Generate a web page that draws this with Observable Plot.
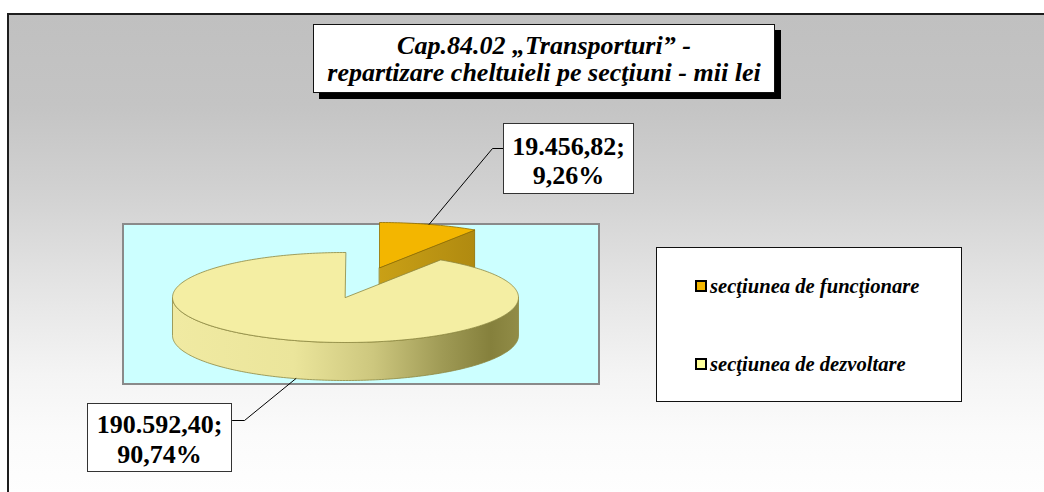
<!DOCTYPE html>
<html>
<head>
<meta charset="utf-8">
<script src="https://cdn.jsdelivr.net/npm/d3@7"></script>
<script src="https://cdn.jsdelivr.net/npm/@observablehq/plot@0.6"></script>
<style>
  html, body { margin: 0; padding: 0; background: #fff; }
  body { width: 1044px; height: 492px; overflow: hidden; position: relative; }
  .serif { font-family: "Liberation Serif", Tinos, "Times New Roman", Times, "Nimbus Roman", "FreeSerif", "DejaVu Serif", "Noto Serif", serif; }
  #frame {
    position: absolute; left: 7px; top: 13px; width: 1100px; height: 520px;
    border-left: 2px solid #1e1e1e; border-top: 2px solid #1e1e1e;
    background: linear-gradient(to bottom, #c0c0c0 0px, #c4c4c4 90px, #d2d2d2 180px, #e4e4e4 270px, #f4f4f4 360px, #fbfbfb 420px, #fefefe 480px);
  }
  #plotarea {
    position: absolute; left: 122px; top: 223px; width: 478px; height: 162px;
    box-sizing: border-box; border: 2px solid #8a8a8a; background: #ccffff;
  }
  #chart { position: absolute; left: 0; top: 0; }
  #title {
    position: absolute; left: 313px; top: 24px; width: 462px; height: 69px;
    box-sizing: border-box; border: 1px solid #111; background: #fff;
    box-shadow: 6px 6px 0 #000;
    font-style: italic; font-weight: bold; font-size: 26px; line-height: 27px;
    text-align: center; padding-top: 7px; color: #000; white-space: nowrap;
  }
  .lbl {
    position: absolute; box-sizing: border-box; border: 1px solid #333; background: #fff;
    font-weight: bold; font-size: 26px; text-align: center; color: #000; white-space: nowrap;
  }
  #legend {
    position: absolute; left: 656px; top: 247px; width: 306px; height: 155px;
    box-sizing: border-box; border: 1px solid #111; background: #fff;
  }
  .item {
    position: absolute; left: 38px; height: 24px; display: flex; align-items: center;
    font-style: italic; font-weight: bold; font-size: 20.6px; color: #000; white-space: nowrap;
  }
  .sw { width: 12px; height: 12px; box-sizing: border-box; border: 2px solid #000; margin-right: 3px; }
</style>
</head>
<body>
<div id="frame"></div>
<div id="plotarea"></div>
<div id="chart"></div>
<div id="title" class="serif"></div>
<div id="labels"></div>
<div id="legend"></div>
<script>
// ---------- data ----------
const titleLines = ["Cap.84.02 „Transporturi” -", "repartizare cheltuieli pe secţiuni - mii lei"];
const categories = ["secţiunea de funcţionare", "secţiunea de dezvoltare"];
const values = [19456.82, 190592.40];

// ---------- styles / layout ----------
const topFill = ["#f3b600", "#f4eea3"];
const legendFill = ["#f3b600", "#ffff99"];
const sideFill = ["url(#endGrad)", "url(#wallGrad)"];
const edgeStroke = ["#8f6d00", "#8d873f"];
const PIE = {cx: 345, cy: 297, rx: 173, ry: 45, depth: 38};
const explodePx = [[34, -30], [0, 0]];
const labelBox = [
  {left: 503, top: 123, w: 131, h: 71, pad: 8, lh: 29, ax: 503, ay: 148, ex: 492},
  {left: 87, top: 403, w: 145, h: 69, pad: 6, lh: 30, ax: 232, ay: 420, ex: 244}
];
const legendY = [26, 104];

// ---------- formatting ----------
const ro = d3.formatLocale({decimal: ",", thousands: ".", grouping: [3], currency: ["", ""]});
const fmtV = ro.format(",.2f");
const fmtP = ro.format(".2%");

// ---------- geometry (unit pie space) ----------
const total = d3.sum(values);
const ux = px => (px - PIE.cx) / PIE.rx;
const uy = py => (PIE.cy - py) / PIE.ry;
const D = PIE.depth / PIE.ry;

let acc = 0;
const slices = values.map((v, i) => {
  const a0 = acc / total * 2 * Math.PI;
  acc += v;
  const a1 = acc / total * 2 * Math.PI;
  return {i, v, p: v / total, a0, a1, ox: explodePx[i][0] / PIE.rx, oy: -explodePx[i][1] / PIE.ry};
});

function arc(s, a, b, dz) {
  const n = Math.max(2, Math.ceil(Math.abs(b - a) / (Math.PI / 180)));
  return d3.range(n + 1).map(k => {
    const t = a + (b - a) * k / n;
    return {u: s.ox + Math.sin(t), v: s.oy + Math.cos(t) - dz};
  });
}

const polys = [];
const order = slices.slice().sort((a, b) => b.oy - a.oy);
for (const s of order) {
  const c = {u: s.ox, v: s.oy}, cb = {u: s.ox, v: s.oy - D};
  const edge = (t, dz) => ({u: s.ox + Math.sin(t), v: s.oy + Math.cos(t) - dz});
  if (Math.sin(s.a0) < -1e-6) polys.push({fill: sideFill[s.i], stroke: edgeStroke[s.i], pts: [c, edge(s.a0, 0), edge(s.a0, D), cb]});
  if (Math.sin(s.a1) > 1e-6) polys.push({fill: sideFill[s.i], stroke: edgeStroke[s.i], pts: [c, edge(s.a1, 0), edge(s.a1, D), cb]});
  const lo = Math.max(s.a0, Math.PI / 2), hi = Math.min(s.a1, 3 * Math.PI / 2);
  if (lo < hi) polys.push({fill: "url(#wallGrad)", stroke: edgeStroke[s.i], pts: [...arc(s, lo, hi, 0), ...arc(s, hi, lo, D)]});
  polys.push({fill: topFill[s.i], stroke: edgeStroke[s.i], pts: [c, ...arc(s, s.a0, s.a1, 0)]});
}

const leaders = slices.flatMap(s => {
  const m = (s.a0 + s.a1) / 2;
  const front = Math.cos(m) < 0;
  const start = {u: s.ox + Math.sin(m), v: s.oy + Math.cos(m) - (front ? D : 0)};
  const L = labelBox[s.i];
  return [
    {id: s.i, ...start},
    {id: s.i, u: ux(L.ex), v: uy(L.ay)},
    {id: s.i, u: ux(L.ax), v: uy(L.ay)}
  ];
});

const marks = polys.map(p => Plot.line(p.pts, {
  x: "u", y: "v", fill: p.fill, stroke: p.stroke, strokeWidth: 0.8, curve: "linear-closed"
}));
marks.push(Plot.line(leaders, {x: "u", y: "v", z: "id", stroke: "#000", strokeWidth: 1}));

const svg = Plot.plot({
  width: 1044, height: 492, margin: 0,
  x: {domain: [-1, 1], range: [PIE.cx - PIE.rx, PIE.cx + PIE.rx], axis: null},
  y: {domain: [-1, 1], range: [PIE.cy + PIE.ry, PIE.cy - PIE.ry], axis: null},
  style: {background: "transparent", overflow: "visible"},
  marks
});
svg.insertAdjacentHTML("afterbegin", `
<defs>
  <linearGradient id="wallGrad" x1="0" y1="0" x2="1" y2="0">
    <stop offset="0" stop-color="#f0eaa2"/>
    <stop offset="0.35" stop-color="#ebe59b"/>
    <stop offset="0.58" stop-color="#cdc77e"/>
    <stop offset="0.78" stop-color="#9f9a55"/>
    <stop offset="0.92" stop-color="#85803c"/>
    <stop offset="1" stop-color="#918c47"/>
  </linearGradient>
  <linearGradient id="endGrad" x1="0" y1="0" x2="1" y2="0">
    <stop offset="0" stop-color="#c9a016"/>
    <stop offset="1" stop-color="#b08a10"/>
  </linearGradient>
</defs>`);
document.getElementById("chart").appendChild(svg);

// title
const t = document.getElementById("title");
titleLines.forEach(l => { const d = document.createElement("div"); d.textContent = l; t.appendChild(d); });

// data labels
const lw = document.getElementById("labels");
slices.forEach(s => {
  const L = labelBox[s.i];
  const d = document.createElement("div");
  d.className = "lbl serif";
  Object.assign(d.style, {left: L.left + "px", top: L.top + "px", width: L.w + "px", height: L.h + "px", paddingTop: L.pad + "px", lineHeight: L.lh + "px"});
  [fmtV(s.v) + ";", fmtP(s.p)].forEach(txt => { const e = document.createElement("div"); e.textContent = txt; d.appendChild(e); });
  lw.appendChild(d);
});

// legend
const lg = document.getElementById("legend");
categories.forEach((c, i) => {
  const it = document.createElement("div");
  it.className = "item serif";
  it.style.top = legendY[i] + "px";
  const sw = document.createElement("span");
  sw.className = "sw";
  sw.style.background = legendFill[i];
  const tx = document.createElement("span");
  tx.textContent = c;
  it.appendChild(sw); it.appendChild(tx);
  lg.appendChild(it);
});
</script>
</body>
</html>
